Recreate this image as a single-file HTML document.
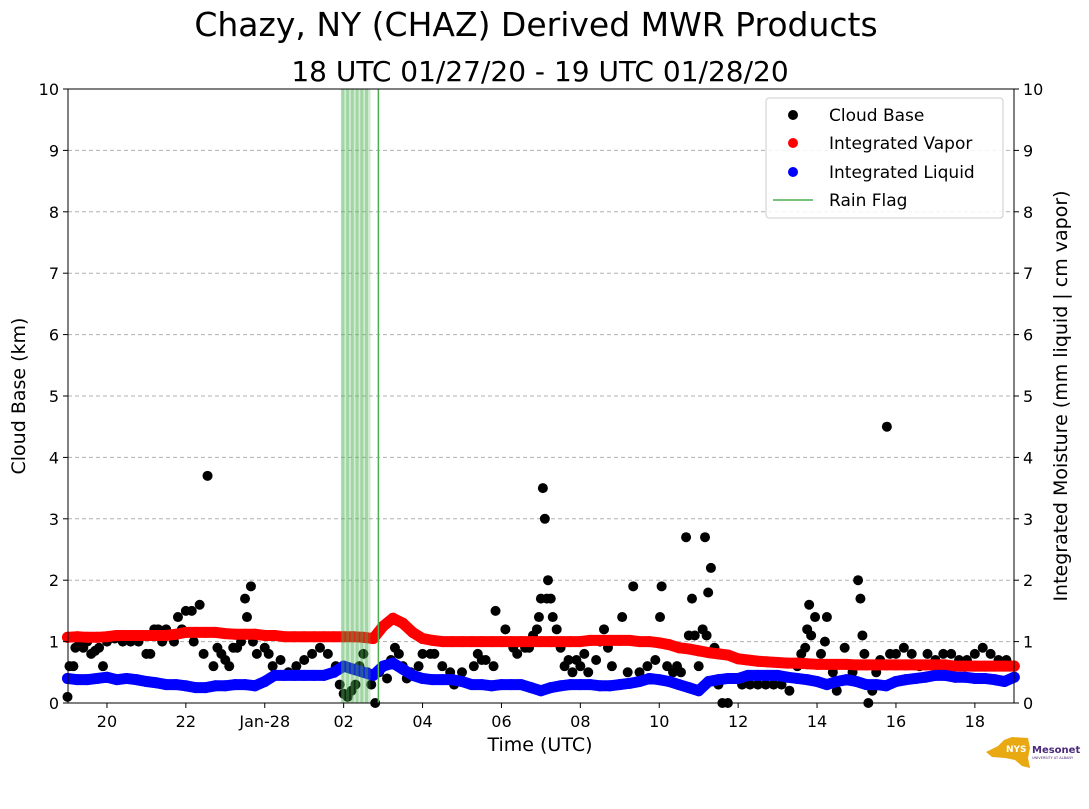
<!DOCTYPE html>
<html><head><meta charset="utf-8"><style>
body{margin:0;background:#fff}
svg text{font-family:"DejaVu Sans","Liberation Sans",sans-serif}
</style></head><body>
<svg id="c" width="1089" height="804" xmlns="http://www.w3.org/2000/svg">
<text x="536" y="36" font-size="33" text-anchor="middle">Chazy, NY (CHAZ) Derived MWR Products</text>
<text x="540" y="81" font-size="28" text-anchor="middle">18 UTC 01/27/20 - 19 UTC 01/28/20</text>
<g id="grid"></g><g id="marks"></g><g id="axes"></g>
<text transform="translate(25,396) rotate(-90)" font-size="19" text-anchor="middle">Cloud Base (km)</text>
<text transform="translate(1067,396) rotate(-90)" font-size="19" text-anchor="middle">Integrated Moisture (mm liquid | cm vapor)</text>
<text x="540" y="751" font-size="19" text-anchor="middle">Time (UTC)</text>
<g>
<rect x="766" y="98" width="237" height="120" rx="3" fill="#fff" fill-opacity="0.85" stroke="#ccc"/>
<circle cx="793" cy="115" r="5" fill="#000"/><text x="829" y="121" font-size="17">Cloud Base</text>
<circle cx="793" cy="143" r="5" fill="red"/><text x="829" y="149" font-size="17">Integrated Vapor</text>
<circle cx="793" cy="172" r="5" fill="blue"/><text x="829" y="178" font-size="17">Integrated Liquid</text>
<line x1="773" y1="200" x2="813" y2="200" stroke="#4caf50" stroke-width="1.5"/><text x="829" y="206" font-size="17">Rain Flag</text>
</g>
<g>
<polygon points="986,752 998,746 1004,740 1012,737 1028,738 1030,748 1028,758 1030,768 1022,766 1015,760 1005,758 992,757" fill="#e8a912"/>
<text x="1006" y="752" font-size="9" font-weight="bold" fill="#fff">NYS</text>
<text x="1032" y="753" font-size="10" font-weight="bold" fill="#4b2a7b">Mesonet</text>
<text x="1032" y="759" font-size="3.5" fill="#4b2a7b">UNIVERSITY AT ALBANY</text>
</g>
</svg>
<script>
const yTicks=[0,1,2,3,4,5,6,7,8,9,10];
const xTickLabels=["20","22","Jan-28","02","04","06","08","10","12","14","16","18"];
const xTickHours=[1,3,5,7,9,11,13,15,17,19,21,23];
const vapor=[1.07,1.08,1.07,1.07,1.08,1.1,1.1,1.1,1.1,1.1,1.1,1.12,1.15,1.15,1.15,1.15,1.13,1.12,1.12,1.12,1.1,1.1,1.08,1.08,1.08,1.08,1.08,1.08,1.08,1.08,1.07,1.05,1.25,1.38,1.3,1.15,1.05,1.02,1.0,1.0,1.0,1.0,1.0,1.0,1.0,1.0,1.0,1.0,1.0,1.0,1.0,1.0,1.0,1.02,1.02,1.02,1.02,1.02,1.0,1.0,0.98,0.95,0.9,0.88,0.85,0.82,0.8,0.78,0.72,0.7,0.68,0.67,0.66,0.65,0.65,0.64,0.63,0.63,0.63,0.63,0.62,0.62,0.62,0.62,0.62,0.62,0.62,0.62,0.62,0.62,0.6,0.6,0.6,0.6,0.6,0.6,0.6];
const liquid=[0.4,0.38,0.38,0.4,0.42,0.38,0.4,0.38,0.35,0.33,0.3,0.3,0.28,0.25,0.25,0.28,0.28,0.3,0.3,0.28,0.35,0.45,0.45,0.45,0.45,0.45,0.45,0.5,0.6,0.55,0.5,0.45,0.6,0.65,0.55,0.45,0.4,0.38,0.38,0.38,0.35,0.3,0.3,0.28,0.3,0.3,0.3,0.25,0.2,0.25,0.28,0.3,0.3,0.3,0.28,0.28,0.3,0.32,0.35,0.4,0.38,0.35,0.3,0.25,0.2,0.35,0.38,0.4,0.4,0.45,0.45,0.45,0.45,0.42,0.4,0.38,0.35,0.3,0.35,0.38,0.35,0.3,0.3,0.28,0.35,0.38,0.4,0.42,0.45,0.45,0.42,0.42,0.4,0.4,0.38,0.35,0.42];
const cloudTimes=[0,0.05,0.15,0.2,0.3,0.4,0.5,0.6,0.7,0.8,0.9,1.0,1.2,1.4,1.6,1.8,2.0,2.1,2.2,2.3,2.4,2.5,2.7,2.8,2.9,3.0,3.15,3.2,3.35,3.45,3.55,3.7,3.8,3.9,4.0,4.1,4.2,4.3,4.4,4.5,4.55,4.65,4.7,4.8,5.0,5.1,5.2,5.4,5.6,5.8,6.0,6.2,6.4,6.6,6.8,6.9,7.0,7.1,7.2,7.3,7.4,7.5,7.6,7.7,7.8,7.9,8.0,8.1,8.2,8.3,8.4,8.5,8.6,8.7,8.9,9.0,9.2,9.3,9.5,9.7,9.8,10.0,10.2,10.3,10.4,10.5,10.6,10.8,10.85,11.0,11.1,11.3,11.4,11.5,11.6,11.7,11.8,11.9,11.95,12.0,12.05,12.1,12.15,12.18,12.25,12.3,12.4,12.5,12.6,12.7,12.8,12.9,13.0,13.1,13.2,13.4,13.5,13.6,13.7,13.8,14.06,14.2,14.34,14.5,14.7,14.9,15.02,15.06,15.2,15.35,15.45,15.55,15.68,15.75,15.83,15.9,16.0,16.1,16.16,16.2,16.24,16.31,16.4,16.5,16.6,16.74,16.9,17.1,17.3,17.5,17.7,17.9,18.1,18.3,18.5,18.6,18.7,18.75,18.8,18.85,18.95,19.1,19.2,19.25,19.4,19.5,19.7,19.9,20.04,20.1,20.15,20.2,20.3,20.4,20.5,20.6,20.77,20.85,21.0,21.2,21.4,21.6,21.8,22.0,22.2,22.4,22.6,22.8,23.0,23.2,23.4,23.6,23.8];
const cloudBase=[0.1,0.6,0.6,0.9,1.0,0.9,1.0,0.8,0.85,0.9,0.6,1.0,1.05,1.0,1.0,1.0,0.8,0.8,1.2,1.2,1.0,1.2,1.0,1.4,1.2,1.5,1.5,1.0,1.6,0.8,3.7,0.6,0.9,0.8,0.7,0.6,0.9,0.9,1.0,1.7,1.4,1.9,1.0,0.8,0.9,0.8,0.6,0.7,0.5,0.6,0.7,0.8,0.9,0.8,0.6,0.3,0.15,0.1,0.2,0.3,0.6,0.8,0.5,0.3,0.0,0.5,0.6,0.4,0.7,0.9,0.8,0.6,0.4,0.5,0.6,0.8,0.8,0.8,0.6,0.5,0.3,0.5,0.3,0.6,0.8,0.7,0.7,0.6,1.5,1.0,1.2,0.9,0.8,1.0,0.9,0.9,1.1,1.2,1.4,1.7,3.5,3.0,1.7,2.0,1.7,1.4,1.2,0.9,0.6,0.7,0.5,0.7,0.6,0.8,0.5,0.7,1.0,1.2,0.9,0.6,1.4,0.5,1.9,0.5,0.6,0.7,1.4,1.9,0.6,0.5,0.6,0.5,2.7,1.1,1.7,1.1,0.6,1.2,2.7,1.1,1.8,2.2,0.9,0.3,0.0,0.0,0.4,0.3,0.3,0.3,0.3,0.3,0.3,0.2,0.6,0.8,0.9,1.2,1.6,1.1,1.4,0.8,1.0,1.4,0.5,0.2,0.9,0.5,2.0,1.7,1.1,0.8,0.0,0.2,0.5,0.7,4.5,0.8,0.8,0.9,0.8,0.6,0.8,0.7,0.8,0.8,0.7,0.7,0.8,0.9,0.8,0.7,0.7];
const rainBand=[6.98,7.1,7.22,7.34,7.46,7.58];
const rainLine=[7.88];
const X0=67.5,HR=39.45,L=68,R=1014,T=89,B=703;
const xs=h=>X0+h*HR, ys=v=>B-v*(B-T)/10;
const NS="http://www.w3.org/2000/svg";
function mk(p,t,a){const e=document.createElementNS(NS,t);for(const k in a)e.setAttribute(k,a[k]);p.appendChild(e);return e;}
const grid=document.getElementById('grid'),marks=document.getElementById('marks'),axes=document.getElementById('axes');
yTicks.forEach(v=>{if(v>0&&v<10){const g=mk(grid,'line',{x1:L,x2:R,y1:ys(v),y2:ys(v),stroke:'#b0b0b0','stroke-dasharray':'4,3'});

}});
cloudTimes.forEach((t,i)=>{const c=mk(marks,'circle',{cx:xs(t),cy:ys(cloudBase[i]),r:5,fill:'#000'});

});
function series(arr,col,name){
const pts=arr.map((v,i)=>xs(i*0.25)+','+ys(v)).join(' ');
const pl=mk(marks,'polyline',{points:pts,fill:'none',stroke:col,'stroke-width':11,'stroke-linecap':'round','stroke-linejoin':'round'});


arr.forEach((v,i)=>{const c=mk(marks,'circle',{cx:xs(i*0.25),cy:ys(v),r:5.5,fill:col});

});}
series(vapor,'red','vapor');
series(liquid,'blue','liquid');
if(rainBand.length){const b=mk(marks,'rect',{x:xs(rainBand[0])-2,y:T,width:xs(rainBand[rainBand.length-1])-xs(rainBand[0])+6,height:B-T,fill:'#4caf50','fill-opacity':0.25});

}
rainBand.forEach(t=>{const r=mk(marks,'rect',{x:xs(t)-1.5,y:T,width:3,height:B-T,fill:'#4caf50','fill-opacity':0.35});

});
rainLine.forEach(t=>{const l=mk(marks,'line',{x1:xs(t),x2:xs(t),y1:T,y2:B,stroke:'#4caf50','stroke-width':1.5});

});
const fr=mk(axes,'rect',{x:L,y:T,width:R-L,height:B-T,fill:'none',stroke:'#000','stroke-width':1});


yTicks.forEach(v=>{const y=ys(v);
mk(axes,'line',{x1:L-5,x2:L,y1:y,y2:y,stroke:'#000'});mk(axes,'line',{x1:R,x2:R+5,y1:y,y2:y,stroke:'#000'});
const a=mk(axes,'text',{x:L-9,y:y+6,'font-size':16,'text-anchor':'end'});a.textContent=v;


const b=mk(axes,'text',{x:R+9,y:y+6,'font-size':16});b.textContent=v;

});
xTickHours.forEach((h,i)=>{const x=xs(h);mk(axes,'line',{x1:x,x2:x,y1:B,y2:B+5,stroke:'#000'});
const t=mk(axes,'text',{x:x,y:B+24,'font-size':16,'text-anchor':'middle'});t.textContent=xTickLabels[i];

});
</script>
</body></html>
